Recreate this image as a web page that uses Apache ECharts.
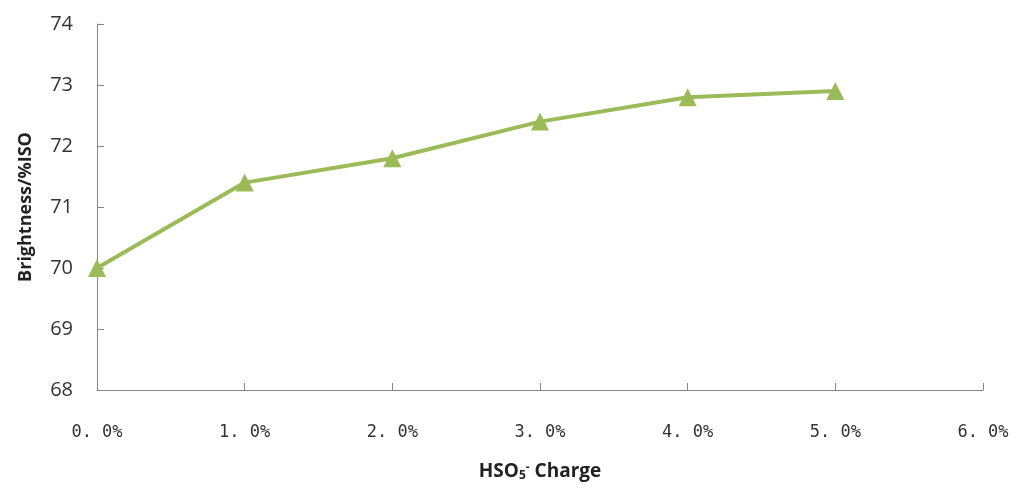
<!DOCTYPE html>
<html><head><meta charset="utf-8">
<script src="https://cdn.jsdelivr.net/npm/echarts@6/dist/echarts.min.js"></script>
<style>html,body{margin:0;padding:0;background:#fff}#c{width:1013px;height:487px}</style>
</head><body><div id="c"></div>
<script>
const charge = [0, 1, 2, 3, 4, 5];
const brightness = [70.0, 71.4, 71.8, 72.4, 72.8, 72.9];
const yTicks = [68, 69, 70, 71, 72, 73, 74];
const xName = 'HSO5- Charge';
const yName = 'Brightness/%ISO';

const chart = echarts.init(document.getElementById('c'));
chart.setOption({
  animation: false,
  grid: {left: 97, right: 30, top: 24, bottom: 92, containLabel: false},
  xAxis: {
    type: 'value', min: 0, max: 6, interval: 1,
    axisLine: {lineStyle: {color: '#868686', width: 1}},
    axisTick: {inside: true, length: 7, lineStyle: {color: '#868686'}},
    splitLine: {show: false},
    axisLabel: {margin: 34, color: '#333', fontSize: 17, fontFamily: 'DejaVu Sans Mono',
      formatter: v => v.toFixed(1).replace('.', '. ') + '%'},
    name: '{b|HSO}{sub|5}{sup|-}{b| Charge}',
    nameLocation: 'middle', nameGap: 72,
    nameTextStyle: {rich: {
      b: {fontSize: 19, fontWeight: 'bold', fontFamily: 'Open Sans', color: '#222'},
      sub: {fontSize: 12, fontWeight: 'bold', fontFamily: 'Open Sans', color: '#222', verticalAlign: 'bottom', padding: [8,0,0,0]},
      sup: {fontSize: 12, fontWeight: 'bold', fontFamily: 'Open Sans', color: '#222', verticalAlign: 'top', padding: [0,0,8,0]}
    }}
  },
  yAxis: {
    type: 'value', min: yTicks[0], max: yTicks[yTicks.length-1], interval: 1,
    axisLine: {show: true, lineStyle: {color: '#868686', width: 1}},
    axisTick: {show: true, inside: true, length: 7, lineStyle: {color: '#868686'}},
    splitLine: {show: false},
    axisLabel: {margin: 24, color: '#333', fontSize: 20, fontFamily: 'Open Sans'},
    name: yName, nameLocation: 'middle', nameGap: 62,
    nameTextStyle: {fontSize: 18, fontWeight: 'bold', fontFamily: 'Open Sans', color: '#222'}
  },
  series: [{
    type: 'line', data: charge.map((x, i) => [x, brightness[i]]),
    symbol: 'triangle', symbolSize: 18,
    lineStyle: {color: '#9BBB59', width: 4},
    itemStyle: {color: '#9BBB59'}
  }]
});
</script></body></html>
